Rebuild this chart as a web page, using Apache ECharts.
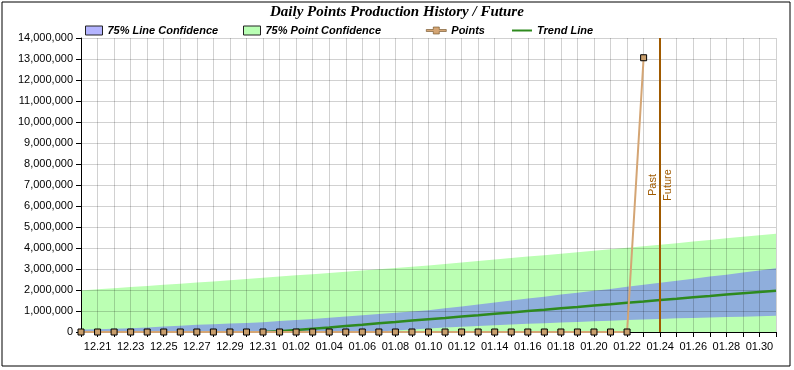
<!DOCTYPE html>
<html>
<head>
<meta charset="utf-8">
<script src="https://cdn.jsdelivr.net/npm/echarts@6/dist/echarts.min.js"></script>
<style>html,body{margin:0;padding:0;background:#fff;}#c{width:794px;height:370px;}</style>
</head>
<body>
<div id="c"></div>
<script>
// Days on the x axis (12.20 .. 01.31)
const dates = ['12.20','12.21','12.22','12.23','12.24','12.25','12.26','12.27','12.28','12.29','12.30','12.31',
  '01.01','01.02','01.03','01.04','01.05','01.06','01.07','01.08','01.09','01.10','01.11','01.12','01.13','01.14',
  '01.15','01.16','01.17','01.18','01.19','01.20','01.21','01.22','01.23','01.24','01.25','01.26','01.27','01.28',
  '01.29','01.30','01.31'];
// Daily points (history)
const points = [0,0,0,0,0,0,0,0,0,0,0,0,0,0,0,0,0,0,0,0,0,0,0,0,0,0,0,0,0,0,0,0,0,0,13060000];
// Trend line (millions)
const trendM = [null,null,null,null,null,null,null,null,null,null,null,0.00,0.04,0.10,0.16,0.22,0.29,0.35,0.42,0.48,0.55,
  0.61,0.67,0.74,0.80,0.87,0.93,1.00,1.06,1.13,1.19,1.26,1.32,1.39,1.45,1.52,1.58,1.65,1.71,1.78,1.84,1.90,1.96];
// 75% line confidence band (millions)
const lineUpperM = [0.12,0.13,0.15,0.18,0.22,0.26,0.30,0.34,0.37,0.40,0.43,0.47,0.52,0.57,0.62,0.68,0.74,0.80,0.86,0.92,0.98,
  1.04,1.13,1.22,1.31,1.40,1.50,1.59,1.68,1.78,1.87,1.96,2.05,2.15,2.25,2.34,2.44,2.54,2.64,2.73,2.83,2.93,3.03];
const lineLowerM = [0,0,0,0,0,0,0,0,0,0,0,0,0,0,0,0,0,0,0.02,0.07,0.12,
  0.17,0.21,0.25,0.29,0.32,0.36,0.39,0.42,0.45,0.48,0.51,0.54,0.57,0.60,0.62,0.65,0.67,0.69,0.71,0.73,0.75,0.77];
// 75% point confidence upper bound (millions)
const pointUpperM = [1.98,2.03,2.08,2.14,2.19,2.25,2.30,2.36,2.41,2.47,2.52,2.58,2.64,2.70,2.75,2.81,2.87,2.93,2.99,3.05,3.11,
  3.17,3.24,3.31,3.38,3.45,3.52,3.59,3.66,3.73,3.80,3.87,3.94,4.01,4.08,4.16,4.23,4.31,4.38,4.46,4.53,4.61,4.68];
const legendNames = ['75% Line Confidence', '75% Point Confidence', 'Points', 'Trend Line'];
const boundaryDate = '01.24';
const yMax = 14000000, yStep = 1000000;

const M = v => v == null ? null : v * 1000000;
const fmt = v => String(v).replace(/\B(?=(\d{3})+(?!\d))/g, ',');

const GREEN = '#BBFFB3', BLUE = '#8FAEDC';
const TAN = '#D4A574', TREND = '#2E8A1E', BROWN = '#A05A00';
const chart = echarts.init(document.getElementById('c'), null, {renderer: 'canvas'});
const font = 'Liberation Sans, Arial, sans-serif';
const legendText = {fontFamily: font, fontWeight: 'bold', fontStyle: 'italic', fontSize: 11, color: '#000'};
const legendItems = [
  {name: legendNames[0], icon: 'rect', itemStyle: {color: '#B4B4FF', borderColor: '#222', borderWidth: 1}},
  {name: legendNames[1], icon: 'rect', itemStyle: {color: '#B9FFB4', borderColor: '#222', borderWidth: 1}},
  {name: legendNames[2], icon: 'path://M0,4H7V1.5H13V4H20V6H13V8.5H7V6H0Z', itemStyle: {color: TAN, borderColor: '#6a4a20', borderWidth: 0.6}},
  {name: legendNames[3], icon: 'path://M0,4H20V6H0Z', itemStyle: {color: TREND, borderWidth: 0}}
];
const legendLeft = [85, 243, 426, 512];
const legendW = [17, 17, 20, 20];
chart.setOption({
  animation: false,
  backgroundColor: '#fff',
  title: {
    text: 'Daily Points Production History / Future',
    left: 265, top: 0,
    textStyle: {fontFamily: 'Liberation Serif, Times New Roman, serif', fontWeight: 'bold', fontStyle: 'italic', fontSize: 15, color: '#000'}
  },
  legend: legendItems.map((it, i) => ({
    left: legendLeft[i], top: 25, padding: 0, itemWidth: legendW[i], itemHeight: 9, itemGap: 0,
    textStyle: legendText, data: [it]
  })),
  graphic: [{type: 'rect', shape: {x: 2, y: 2, width: 788, height: 364}, style: {fill: 'none', stroke: '#000', lineWidth: 1}, z: 0}],
  grid: {left: 81, right: 18, top: 38, bottom: 38},
  xAxis: {
    type: 'category', data: dates, boundaryGap: false, z: 1.5,
    axisLine: {lineStyle: {color: '#000', width: 1}},
    axisTick: {show: true, interval: 0, length: 5, lineStyle: {color: '#000'}},
    axisLabel: {interval: i => i % 2 === 1, color: '#000', fontFamily: font, fontSize: 11, margin: 9},
    splitLine: {show: true, interval: 0, lineStyle: {color: 'rgba(0,0,0,0.18)', width: 1}}
  },
  yAxis: {
    type: 'value', min: 0, max: yMax, interval: yStep, z: 1.5,
    axisLine: {show: true, lineStyle: {color: '#000', width: 1}},
    axisTick: {show: true, length: 5, lineStyle: {color: '#000'}},
    axisLabel: {color: '#000', fontFamily: font, fontSize: 11, margin: 8, formatter: v => fmt(v)},
    splitLine: {show: true, lineStyle: {color: 'rgba(0,0,0,0.18)', width: 1}}
  },
  series: [
    {name: legendNames[1], type: 'line', z: 1, symbol: 'none', silent: true,
      data: pointUpperM.map(M), lineStyle: {width: 0}, itemStyle: {color: GREEN}, areaStyle: {color: GREEN, opacity: 1}},
    {name: legendNames[0], type: 'line', z: 1, symbol: 'none', silent: true,
      data: lineUpperM.map(M), lineStyle: {width: 0}, itemStyle: {color: BLUE}, areaStyle: {color: BLUE, opacity: 1}},
    {name: legendNames[1], type: 'line', z: 1, symbol: 'none', silent: true,
      data: lineLowerM.map(M), lineStyle: {width: 0}, itemStyle: {color: GREEN}, areaStyle: {color: GREEN, opacity: 1}},
    {name: legendNames[3], type: 'line', z: 3, symbol: 'none', connectNulls: false,
      data: trendM.map(M), lineStyle: {color: TREND, width: 2.5}, itemStyle: {color: TREND}},
    {name: legendNames[2], type: 'line', z: 4, symbol: 'rect', symbolSize: 6,
      data: points, lineStyle: {color: TAN, width: 2},
      itemStyle: {color: '#C89E6C', borderColor: '#000', borderWidth: 1},
      markLine: {
        silent: true, symbol: 'none',
        lineStyle: {color: BROWN, width: 2, type: 'solid'},
        label: {color: BROWN, fontFamily: font, fontSize: 11, distance: 2},
        data: [
          {xAxis: boundaryDate, label: {formatter: 'Past', position: 'insideMiddleTop'}},
          {xAxis: boundaryDate, label: {formatter: 'Future', position: 'insideMiddleBottom'}}
        ]
      }}
  ]
});
</script>
</body>
</html>
